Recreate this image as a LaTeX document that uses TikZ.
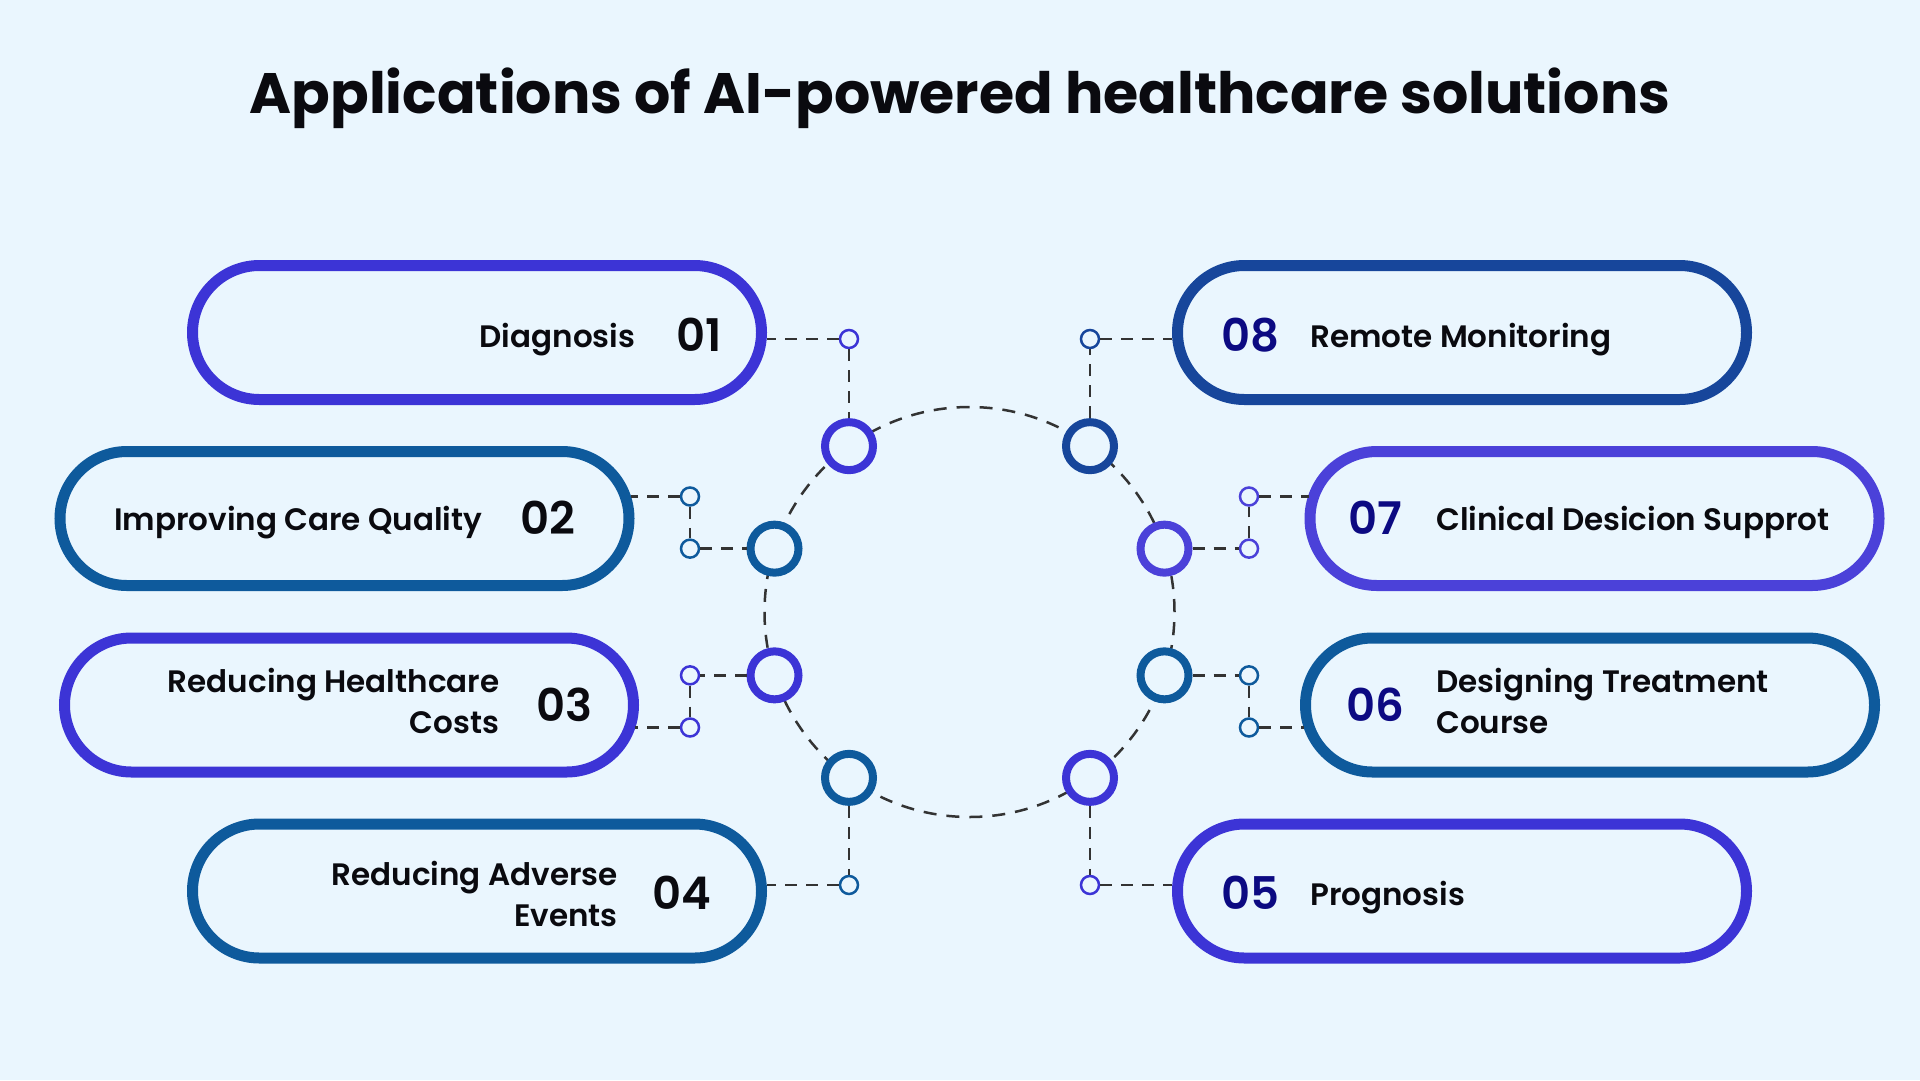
\documentclass[tikz,border=0pt]{standalone}
\usepackage{fontspec}
\setmainfont{Poppins}
\newfontfamily\semib{Poppins SemiBold}
\usetikzlibrary{calc}
\definecolor{bg}{HTML}{EAF6FE}
\definecolor{cpur}{HTML}{3C34D6}
\definecolor{cpurl}{HTML}{4B41D9}
\definecolor{cteal}{HTML}{0E5A9C}
\definecolor{cnavy}{HTML}{17469B}
\definecolor{dashc}{HTML}{333333}
\definecolor{numr}{HTML}{0C0A82}
\definecolor{txt}{HTML}{0A0A0F}
\tikzset{
  pill/.style={draw=#1, line width=11pt, fill=bg, minimum width=569pt, minimum height=134pt, rounded corners=67pt, inner sep=0pt},
  ring/.style={circle, draw=#1, line width=8pt, fill=bg, minimum size=48pt, inner sep=0pt},
  dot/.style={circle, draw=#1, line width=2.5pt, fill=bg, minimum size=18pt, inner sep=0pt},
  link/.style={draw=dashc, line width=2.5pt, dash pattern=on 12pt off 9pt},
  hubline/.style={draw=dashc, line width=2.5pt, dash pattern=on 13pt off 10pt},
  lbl/.style={inner sep=0pt, text=txt, font=\semib\fontsize{31pt}{41pt}\selectfont},
  numl/.style={inner sep=0pt, text=txt, font=\semib\fontsize{45pt}{50pt}\selectfont},
  numr/.style={inner sep=0pt, text=numr, font=\semib\fontsize{45pt}{50pt}\selectfont},
}
\begin{document}
\begin{tikzpicture}[x=1pt,y=-1pt]
\fill[bg] (0,0) rectangle (1920,1080);
\useasboundingbox (0,0) rectangle (1920,1080);

\node[inner sep=0pt, anchor=base, text=txt, font=\bfseries\fontsize{57pt}{66pt}\selectfont] (title) at (960,113) {Applications of AI-powered healthcare solutions};

% hub circle
\coordinate (hub) at (969.5,612);
\draw[hubline] (hub) circle[radius=205pt];

% pills
\node[pill=cpur]  (p1) at (477,332.5) {};
\node[pill=cteal] (p2) at (344.5,518.5) {};
\node[pill=cpur]  (p3) at (349,705) {};
\node[pill=cteal] (p4) at (477,891) {};
\node[pill=cpur]  (p5) at (1462,891) {};
\node[pill=cteal] (p6) at (1590,705) {};
\node[pill=cpurl] (p7) at (1594.5,518.5) {};
\node[pill=cnavy] (p8) at (1462,332.5) {};

% ring nodes
\node[ring=cpur]  (r1) at (849,446.15) {};
\node[ring=cteal] (r2) at (774.5,548.65) {};
\node[ring=cpur]  (r3) at (774.5,675.35) {};
\node[ring=cteal] (r4) at (849,777.85) {};
\node[ring=cpur]  (r5) at (1090,777.85) {};
\node[ring=cteal] (r6) at (1164.5,675.35) {};
\node[ring=cpurl] (r7) at (1164.5,548.65) {};
\node[ring=cnavy] (r8) at (1090,446.15) {};

% small dots
\node[dot=cpur]  (s1)  at (849,339) {};
\node[dot=cteal] (s2a) at (690,496.5) {};
\node[dot=cteal] (s2b) at (690,548.65) {};
\node[dot=cpur]  (s3a) at (690,675.35) {};
\node[dot=cpur]  (s3b) at (690,727.5) {};
\node[dot=cteal] (s4)  at (849,885) {};
\node[dot=cpur]  (s5)  at (1090,885) {};
\node[dot=cteal] (s6a) at (1249,675.35) {};
\node[dot=cteal] (s6b) at (1249,727.5) {};
\node[dot=cpurl] (s7a) at (1249,496.5) {};
\node[dot=cpurl] (s7b) at (1249,548.65) {};
\node[dot=cnavy] (s8)  at (1090,339) {};

% connectors
\draw[link] (s1) -- (p1.east |- s1);
\draw[link] (s1) -- (r1);
\draw[link] (s2a) -- ($(p2.east |- s2a)+(-4,0)$);
\draw[link] (s2a) -- (s2b);
\draw[link] (s2b) -- (r2);
\draw[link] (r3) -- (s3a);
\draw[link] (s3a) -- (s3b);
\draw[link] (s3b) -- ($(p3.east |- s3b)+(-4,0)$);
\draw[link] (r4) -- (s4);
\draw[link] (s4) -- (p4.east |- s4);
\draw[link] (r5) -- (s5);
\draw[link] (s5) -- (p5.west |- s5);
\draw[link] (r6) -- (s6a);
\draw[link] (s6a) -- (s6b);
\draw[link] (s6b) -- ($(p6.west |- s6b)+(4,0)$);
\draw[link] (r7) -- (s7b);
\draw[link] (s7b) -- (s7a);
\draw[link] (s7a) -- ($(p7.west |- s7a)+(4,0)$);
\draw[link] (r8) -- (s8);
\draw[link] (s8) -- (p8.west |- s8);

% left texts
\node[numl, anchor=base east] (n1) at (722,351.7) {01};
\node[lbl, anchor=base east] (t1) at (635.5,347.2) {Diagnosis};
\node[numl, anchor=base east] (n2) at (575.5,534.7) {02};
\node[lbl, anchor=base east] (t2) at (482.5,530.2) {Improving Care Quality};
\node[numl, anchor=base east] (n3) at (593,721.7) {03};
\node[lbl, anchor=base east] (t3) at (499.6,692) {\begin{tabular}[t]{@{}r@{}}Reducing Healthcare\\Costs\end{tabular}};
\node[numl, anchor=base east] (n4) at (711.5,909.7) {04};
\node[lbl, anchor=base east] (t4) at (618,885) {\begin{tabular}[t]{@{}r@{}}Reducing Adverse\\Events\end{tabular}};

% right texts
\node[numr, anchor=base west] (n8) at (1221,351.7) {08};
\node[lbl, anchor=base west] (t8) at (1310,347.2) {Remote Monitoring};
\node[numr, anchor=base west] (n7) at (1348,534.7) {07};
\node[lbl, anchor=base west] (t7) at (1436,530.2) {Clinical Desicion Supprot};
\node[numr, anchor=base west] (n6) at (1346,721.7) {06};
\node[lbl, anchor=base west] (t6) at (1436,692) {\begin{tabular}[t]{@{}l@{}}Designing Treatment\\Course\end{tabular}};
\node[numr, anchor=base west] (n5) at (1221,909.7) {05};
\node[lbl, anchor=base west] (t5) at (1310,905.2) {Prognosis};
\end{tikzpicture}
\end{document}
